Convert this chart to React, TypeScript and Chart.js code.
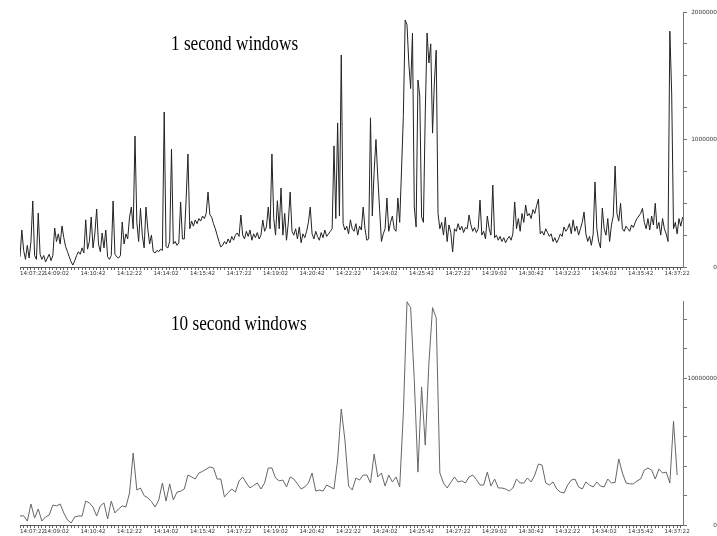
import React, { useEffect, useRef } from 'react';
import { Chart, registerables } from 'chart.js';

Chart.register(...registerables);

// ---- x axis (seconds since 14:07:22) ----
const tickLabels = [
  '14:07:22', '14:09:02', '14:10:42', '14:12:22', '14:14:02', '14:15:42', '14:17:22',
  '14:19:02', '14:20:42', '14:22:22', '14:24:02', '14:25:42', '14:27:22', '14:29:02',
  '14:30:42', '14:32:22', '14:34:02', '14:35:42', '14:37:22',
];
const labelStepSec = 100;
const minorStepSec = 10;
const xMaxSec = 1816;

// ---- top panel: 1 second windows (sampled every 5 s, values in thousands) ----
const oneSecStepSec = 5;
const oneSecValuesK = [
  80, 290, 130, 60, 170, 70, 200, 518, 90, 60,
  424, 100, 60, 90, 40, 70, 100, 50, 90, 306,
  200, 260, 180, 322, 230, 160, 120, 80, 40, 15,
  50, 90, 120, 100, 150, 110, 370, 140, 200, 392,
  150, 260, 455, 180, 120, 267, 150, 290, 80, 60,
  90, 518, 100, 80, 70, 90, 353, 180, 260, 220,
  390, 470, 300, 1027, 350, 200, 460, 250, 150, 470,
  300, 180, 250, 120, 110, 130, 120, 140, 130, 1216,
  160, 150, 200, 925, 180, 200, 170, 190, 510, 220,
  220, 530, 886, 300, 360, 320, 369, 340, 380, 360,
  400, 380, 420, 588, 410, 390, 340, 300, 250, 200,
  157, 170, 200, 180, 220, 190, 240, 210, 250, 267,
  240, 408, 250, 220, 280, 240, 290, 210, 260, 230,
  270, 220, 250, 369, 280, 314, 470, 300, 886, 380,
  250, 520, 300, 620, 250, 420, 210, 350, 588, 280,
  250, 300, 220, 314, 190, 260, 230, 280, 350, 470,
  260, 220, 280, 240, 210, 270, 230, 290, 240, 260,
  280, 300, 950, 380, 1130, 400, 1663, 340, 290, 320,
  260, 370, 300, 280, 340, 250, 320, 290, 470, 300,
  210, 220, 1170, 400, 750, 1000, 706, 450, 200, 260,
  300, 541, 280, 350, 400, 300, 280, 541, 350, 760,
  1180, 1937, 1900, 1600, 1400, 1835, 470, 314, 1467, 1340,
  392, 350, 1200, 1835, 1600, 1750, 1050, 1450, 1700, 420,
  300, 350, 250, 390, 200, 330, 270, 118, 300, 280,
  340, 290, 320, 270, 310, 300, 408, 330, 280, 310,
  270, 300, 525, 250, 280, 220, 400, 300, 250, 643,
  230, 250, 210, 240, 200, 230, 190, 220, 240, 210,
  260, 510, 300, 380, 280, 420, 350, 486, 400, 420,
  380, 450, 420, 480, 533, 260, 280, 250, 300, 270,
  240, 260, 200, 230, 190, 220, 260, 240, 314, 280,
  300, 340, 260, 370, 280, 320, 250, 300, 350, 431,
  260, 200, 240, 170, 260, 667, 300, 200, 150, 463,
  300, 250, 380, 200, 330, 400, 792, 420, 360, 500,
  300, 280, 320, 300, 280, 330, 310, 350, 380, 400,
  420, 460, 350, 300, 380, 290, 400, 330, 500, 300,
  350, 250, 380, 300, 260, 200, 1850, 1365, 300, 350,
  260, 380, 320, 392,
];
const topYMax = 2000000;
const topYStep = 250000;
const topYLabelled = [0, 1000000, 2000000];

// ---- bottom panel: 10 second windows (values in millions) ----
const tenSecStepSec = 10;
const tenSecValuesM = [
  0.61, 0.63, 0.27, 1.43, 0.48, 1.09, 0.27, 0.55, 0.68, 1.36,
  1.3, 1.43, 0.82, 0.34, 0.14, 0.55, 0.61, 0.61, 1.63, 1.5,
  1.22, 0.61, 1.3, 1.5, 0.41, 1.63, 0.82, 1.09, 1.3, 1.22,
  2.18, 4.9, 2.38, 2.52, 2.0, 1.85, 1.6, 1.22, 1.7, 2.86,
  1.63, 2.8, 1.7, 2.24, 2.3, 2.45, 3.4, 3.27, 3.13, 3.54,
  3.65, 3.8, 3.95, 3.88, 3.13, 3.13, 1.9, 2.2, 2.45, 2.24,
  3.0, 3.27, 2.86, 2.52, 2.7, 2.86, 2.45, 2.86, 3.88, 3.88,
  3.2, 3.0, 3.06, 2.59, 3.27, 3.13, 2.8, 2.45, 2.59, 2.86,
  3.54, 2.31, 2.38, 2.31, 2.72, 2.59, 2.45, 4.42, 7.9, 5.78,
  2.65, 2.38, 3.2, 3.06, 3.4, 3.4, 2.86, 4.83, 3.27, 3.54,
  2.65, 3.4, 2.93, 3.27, 2.59, 7.6, 15.2, 14.8, 9.86, 3.6,
  9.4, 5.44, 11.0, 14.8, 14.1, 3.54, 2.86, 2.52, 2.9, 3.27,
  2.93, 3.0, 2.86, 3.27, 3.4, 3.1, 2.72, 2.72, 3.6, 2.65,
  3.13, 2.52, 2.52, 2.45, 2.31, 2.52, 3.13, 2.86, 2.86, 3.2,
  2.93, 3.4, 4.15, 4.08, 2.86, 2.72, 2.93, 2.45, 2.24, 2.18,
  2.72, 3.06, 3.13, 2.59, 2.45, 2.93, 2.72, 2.59, 2.93, 2.65,
  2.59, 3.13, 2.86, 2.9, 4.5, 3.54, 2.86, 2.8, 2.8, 3.0,
  3.13, 3.74, 3.88, 3.74, 3.13, 3.81, 3.54, 3.6, 2.86, 7.07,
  3.4,
];
const bottomYMax = 15250000;
const bottomYStep = 2000000;
const bottomYLabelled = [0, 10000000];

const titlePlugin = {
  id: 'panelTitle',
  afterDraw(chart: any, _args: any, opts: any) {
    const ctx = chart.ctx;
    ctx.save();
    ctx.font = `${opts.size}px "Liberation Serif", "DejaVu Serif", serif`;
    ctx.fillStyle = '#000';
    ctx.textBaseline = 'alphabetic';
    ctx.textAlign = 'left';
    ctx.translate(opts.x, opts.y);
    ctx.scale(opts.sx, 1);
    ctx.fillText(opts.text, 0, 0);
    ctx.restore();
  },
};

function rangeTicks(max: number, step: number) {
  const out: number[] = [];
  for (let v = 0; v <= max + 1e-6; v += step) out.push(v);
  return out;
}

function makeConfig(p: any): any {
  const xTicks = rangeTicks(1810, minorStepSec);
  const yTicks = rangeTicks(p.yMax, p.yStep);
  const xFont = { family: '"DejaVu Sans", sans-serif', size: 5.6 };
  const yFont = { family: '"DejaVu Sans", sans-serif', size: 5.8 };
  return {
    type: 'line',
    data: {
      datasets: [
        {
          data: p.points,
          borderColor: p.color,
          borderWidth: 1,
          pointRadius: 0,
          tension: 0,
          fill: false,
        },
      ],
    },
    options: {
      animation: false,
      responsive: false,
      devicePixelRatio: 1,
      events: [],
      layout: { padding: { left: 20, top: p.padTop, right: 0, bottom: 0 } },
      plugins: {
        legend: { display: false },
        tooltip: { enabled: false },
        panelTitle: { text: p.title, x: 171, y: 49.5, size: 20, sx: 0.86 },
      },
      scales: {
        x: {
          type: 'linear',
          min: 0,
          max: xMaxSec,
          afterBuildTicks: (scale: any) => {
            scale.ticks = xTicks.map((v) => ({ value: v }));
          },
          afterFit: (scale: any) => {
            scale.height = p.xAxisHeight;
          },
          ticks: {
            autoSkip: false,
            maxRotation: 0,
            minRotation: 0,
            align: 'inner',
            padding: 0,
            font: xFont,
            color: '#333',
            callback: (value: any) => {
              const s = Math.round(Number(value));
              return s % labelStepSec === 0 ? tickLabels[s / labelStepSec] ?? '' : '';
            },
          },
          grid: { display: true, drawOnChartArea: false, drawTicks: true, tickLength: 3, color: '#666', lineWidth: 1 },
          border: { display: true, color: '#555', width: 1 },
        },
        y: {
          type: 'linear',
          position: 'right',
          min: 0,
          max: p.yMax,
          afterBuildTicks: (scale: any) => {
            scale.ticks = yTicks.map((v) => ({ value: v }));
          },
          afterFit: (scale: any) => {
            scale.width = 34;
          },
          ticks: {
            autoSkip: false,
            crossAlign: 'far',
            padding: p.yPad,
            font: yFont,
            color: '#333',
            callback: (value: any) => {
              const v = Math.round(Number(value));
              return p.yLabelled.includes(v) ? String(v) : '';
            },
          },
          grid: { display: true, drawOnChartArea: false, drawTicks: true, tickLength: 4, color: '#777', lineWidth: 1 },
          border: { display: true, color: '#777', width: 1 },
        },
      },
    },
    plugins: [titlePlugin],
  };
}

export default function App() {
  const topRef = useRef<HTMLCanvasElement>(null);
  const bottomRef = useRef<HTMLCanvasElement>(null);

  useEffect(() => {
    const topPoints = oneSecValuesK.map((v, i) => ({ x: i * oneSecStepSec, y: v * 1000 }));
    const bottomPoints = tenSecValuesM.map((v, i) => ({ x: i * tenSecStepSec, y: v * 1000000 }));
    const top = new Chart(
      topRef.current as HTMLCanvasElement,
      makeConfig({
        points: topPoints,
        color: '#222',
        title: '1 second windows',
        padTop: 12,
        xAxisHeight: 13,
        yMax: topYMax,
        yStep: topYStep,
        yLabelled: topYLabelled,
        yPad: 1,
      })
    );
    const bottom = new Chart(
      bottomRef.current as HTMLCanvasElement,
      makeConfig({
        points: bottomPoints,
        color: '#666',
        title: '10 second windows',
        padTop: 21,
        xAxisHeight: 11,
        yMax: bottomYMax,
        yStep: bottomYStep,
        yLabelled: bottomYLabelled,
        yPad: 0,
      })
    );
    return () => {
      top.destroy();
      bottom.destroy();
    };
  }, []);

  return (
    <div style={{ position: 'absolute', left: 0, top: 0, width: 717, height: 536, background: '#fff' }}>
      <canvas ref={topRef} width={717} height={280} style={{ display: 'block', width: 717, height: 280 }} />
      <canvas ref={bottomRef} width={717} height={256} style={{ display: 'block', width: 717, height: 256 }} />
    </div>
  );
}
